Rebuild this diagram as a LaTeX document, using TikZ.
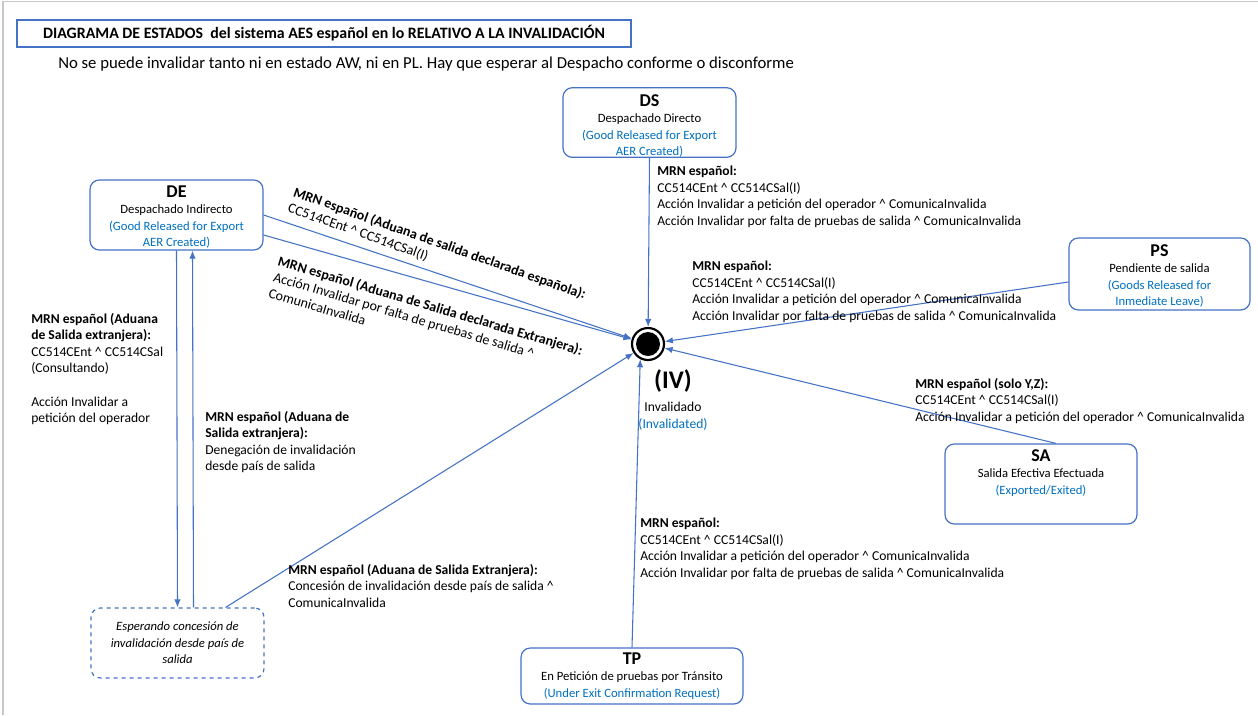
\documentclass[tikz,border=0pt]{standalone}
\usepackage{fontspec}
\setmainfont{Carlito}
\usetikzlibrary{arrows.meta,calc}
\definecolor{bc}{RGB}{68,114,196}
\definecolor{lc}{RGB}{68,114,196}
\definecolor{tb}{RGB}{0,112,192}
\definecolor{fr}{RGB}{200,200,200}
\begin{document}
\begin{tikzpicture}[x=0.75pt,y=-0.75pt,
  lblfont/.style={font=\fontsize{10.2}{12.4}\selectfont},
  lbl/.style={lblfont,anchor=north west,align=left,inner sep=0pt},
  rlbl/.style={lbl,font=\fontsize{10.5}{12.4}\selectfont},
  statebox/.style={draw=bc,line width=0.9pt,rounded corners=7pt,align=center,inner sep=0pt,
     font=\fontsize{9.5}{12.3}\selectfont},
  arr/.style={draw=lc,line width=0.8pt,-{Latex[length=6pt,width=4.8pt]}}]
\useasboundingbox (0,0) rectangle (1258,715);
\fill[white] (0,0) rectangle (1258,715);
\draw[fr,line width=1pt] (3,715) -- (3,1.5) -- (1258,1.5);

% title
\node[draw=bc,line width=0.9pt,minimum width=614*0.75pt,minimum height=27*0.75pt,inner sep=0pt,
  font=\fontsize{11.9}{14}\selectfont\bfseries] (title) at (324,33.5)
  {DIAGRAMA DE ESTADOS\ \ del sistema AES español en lo RELATIVO A LA INVALIDACIÓN};
\node[font=\fontsize{12.55}{14}\selectfont,anchor=west,inner sep=0pt] (sub) at (58,64)
  {No se puede invalidar tanto ni en estado AW, ni en PL. Hay que esperar al Despacho conforme o disconforme};

% states
\node[statebox,minimum width=173*0.75pt,minimum height=69*0.75pt] (ds) at (649.5,122.5)
  {\rule{0pt}{14pt}{\fontsize{13.5}{16}\selectfont\bfseries DS}\\Despachado Directo\\\textcolor{tb}{(Good Released for Export}\\\textcolor{tb}{AER Created)}};
\node[statebox,minimum width=173*0.75pt,minimum height=70*0.75pt] (de) at (176.5,215)
  {\rule{0pt}{12pt}{\fontsize{13.5}{16}\selectfont\bfseries DE}\\Despachado Indirecto\\\textcolor{tb}{(Good Released for Export}\\\textcolor{tb}{AER Created)}};
\node[statebox,minimum width=181*0.75pt,minimum height=72*0.75pt] (ps) at (1159.5,274)
  {\rule{0pt}{12pt}{\fontsize{13.5}{16}\selectfont\bfseries PS}\\Pendiente de salida\\\textcolor{tb}{(Goods Released for}\\\textcolor{tb}{Inmediate Leave)}};
\node[statebox,minimum width=192*0.75pt,minimum height=80*0.75pt] (sa) at (1041,484)
  {{\fontsize{13.5}{16}\selectfont\bfseries SA}\\Salida Efectiva Efectuada\\\textcolor{tb}{(Exported/Exited)}\\[6pt]};
\node[statebox,minimum width=222*0.75pt,minimum height=56*0.75pt] (tp) at (632,676)
  {{\fontsize{13.5}{16}\selectfont\bfseries TP}\\En Petición de pruebas por Tránsito\\\textcolor{tb}{(Under Exit Confirmation Request)}};
\node[statebox,dashed,minimum width=173*0.75pt,minimum height=70*0.75pt,font=\fontsize{9.5}{12.3}\selectfont\itshape] (esp) at (177.5,643)
  {Esperando concesión de\\invalidación desde país de\\salida};

% final state
\node[circle,draw=black,line width=1.6pt,minimum size=32*0.75pt,inner sep=0pt] (iv) at (648,344) {};
\fill[black] (iv.center) circle[radius=12];
\node[inner sep=0pt,font=\fontsize{19}{22}\selectfont\bfseries] (ivname) at (673,381) {(IV)};
\node[inner sep=0pt,align=center,font=\fontsize{10.2}{12.4}\selectfont] (ivtxt) at (673,416)
  {Invalidado\\\textcolor{tb}{(Invalidated)}};

% connectors
\draw[arr] (ds.south) -- (iv);
\draw[arr] (de.east) -- (iv);
\draw[arr] ($(de.east)+(0,20)$) -- (iv);
\draw[arr] ($(ps.west)+(0,8)$) -- (iv);
\draw[arr] ($(sa.north)+(15,0)$) -- (iv);
\draw[arr] (tp.north) -- (iv.243);
\draw[arr] ($(esp.north)+(48,0)$) -- (iv);
\draw[arr] (de.south) -- (esp.north);
\draw[arr] ($(esp.north)+(16,0)$) -- ($(de.south)+(16,0)$);

% labels
\node[lbl] (lds) at (657,166) {\textbf{MRN español:}\\CC514CEnt \^{} CC514CSal(I)\\Acción Invalidar a petición del operador \^{} ComunicaInvalida\\Acción Invalidar por falta de pruebas de salida \^{} ComunicaInvalida};
\node[lbl] (lps) at (692,261) {\textbf{MRN español:}\\CC514CEnt \^{} CC514CSal(I)\\Acción Invalidar a petición del operador \^{} ComunicaInvalida\\Acción Invalidar por falta de pruebas de salida \^{} ComunicaInvalida};
\node[lbl] (lsa) at (915,378) {\textbf{MRN español (solo Y,Z):}\\CC514CEnt \^{} CC514CSal(I)\\Acción Invalidar a petición del operador \^{} ComunicaInvalida};
\node[lbl] (ltp) at (640,518) {\textbf{MRN español:}\\CC514CEnt \^{} CC514CSal(I)\\Acción Invalidar a petición del operador \^{} ComunicaInvalida\\Acción Invalidar por falta de pruebas de salida \^{} ComunicaInvalida};
\node[lbl] (lleft) at (31,313) {\textbf{MRN español (Aduana}\\\textbf{de Salida extranjera):}\\CC514CEnt \^{} CC514CSal\\(Consultando)\\[12.4pt]Acción Invalidar a\\petición del operador};
\node[lbl] (lmid) at (205,411) {\textbf{MRN español (Aduana de}\\\textbf{Salida extranjera):}\\Denegación de invalidación\\desde país de salida};
\node[lbl] (lbot) at (288,564) {\textbf{MRN español (Aduana de Salida Extranjera):}\\Concesión de invalidación desde país de salida \^{}\\ComunicaInvalida};
\node[rlbl,rotate=-19.5] (lde1) at (296,186) {\textbf{MRN español (Aduana de salida declarada española):}\\CC514CEnt \^{} CC514CSal(I)};
\node[rlbl,rotate=-16.5] (lde2) at (280,255) {\textbf{MRN español (Aduana de Salida declarada Extranjera):}\\Acción Invalidar por falta de pruebas de salida \^{}\\ComunicaInvalida};
\end{tikzpicture}
\end{document}
